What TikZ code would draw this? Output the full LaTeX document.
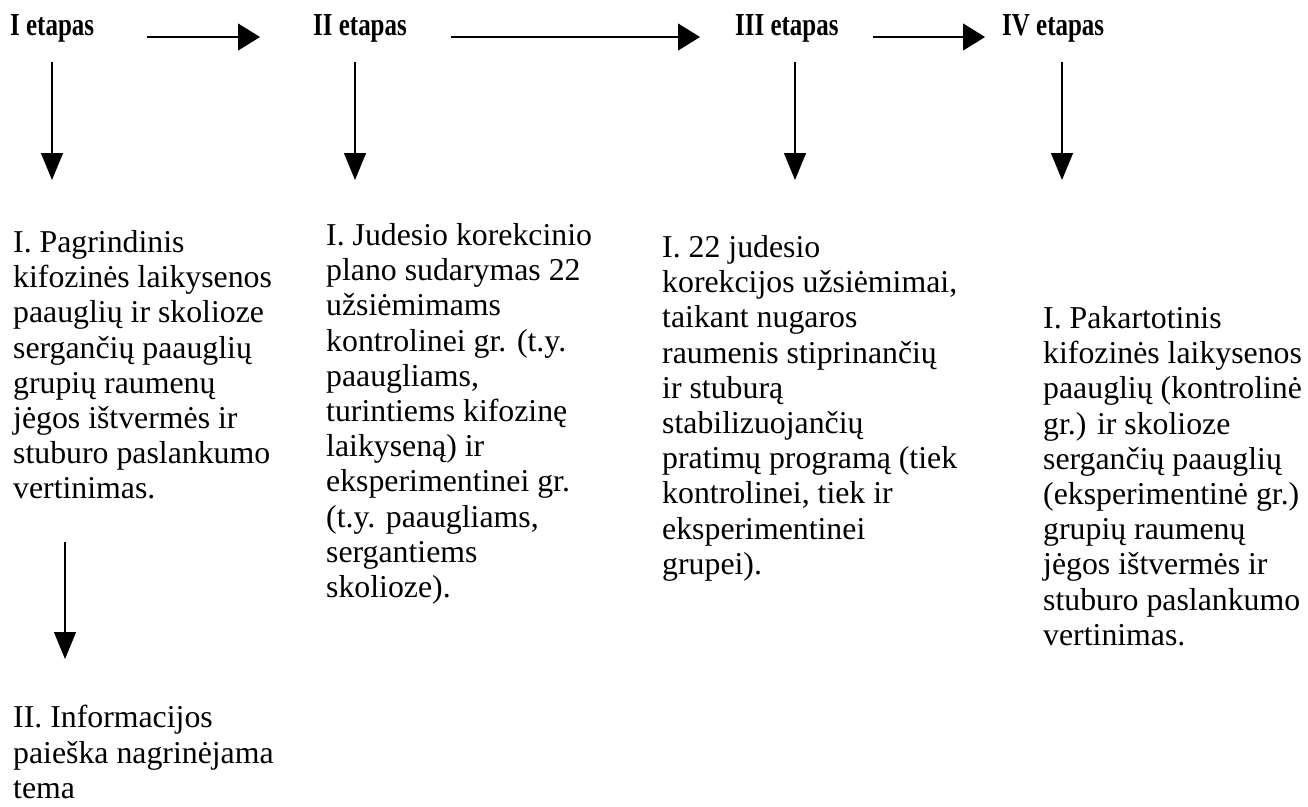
\documentclass[tikz,border=0pt]{standalone}
\usepackage{fontspec}
\setmainfont{Liberation Serif}
\usetikzlibrary{arrows.meta}

\begin{document}
\begin{tikzpicture}[x=1pt,y=-1pt,
	etapas/.style={anchor=base west,inner sep=0pt,font=\fontsize{32}{36}\selectfont\bfseries},
	darbas/.style={anchor=north west,inner sep=0pt,align=left,font=\fontsize{31.8}{35.2}\selectfont},
	harrow/.style={line width=1.2pt,-{Triangle[length=22pt,width=27pt]}},
	varrow/.style={line width=1.2pt,-{Triangle[length=27pt,width=22pt]}}]
		\useasboundingbox (0,0) rectangle (1308,806);
		%stage titles
		\node[etapas] (t1) at (10,35) {\scalebox{0.78}[1]{I etapas}};
		\node[etapas] (t2) at (313,35) {\scalebox{0.78}[1]{II etapas}};
		\node[etapas] (t3) at (735,35) {\scalebox{0.78}[1]{III etapas}};
		\node[etapas] (t4) at (1002,35) {\scalebox{0.78}[1]{IV etapas}};
		\draw[harrow,shorten <=53pt,shorten >=53pt] ([yshift=-2pt]t1.base east) -- ([yshift=-2pt]t2.base west);
		\draw[harrow,shorten <=44pt,shorten >=35pt] ([yshift=-2pt]t2.base east) -- ([yshift=-2pt]t3.base west);
		\draw[harrow,shorten <=34pt,shorten >=17pt] ([yshift=-2pt]t3.base east) -- ([yshift=-2pt]t4.base west);
		
		%stage works
		\node[darbas] (s1) at (13,230.3) {I. Pagrindinis\\kifozinės laikysenos\\paauglių ir skolioze\\sergančių paauglių\\grupių raumenų\\jėgos ištvermės ir\\stuburo paslankumo\\vertinimas.};
		\node[darbas] (s2) at (326,223.3) {I. Judesio korekcinio\\plano sudarymas 22\\užsiėmimams\\kontrolinei gr. (t.y.\\paaugliams,\\turintiems kifozinę\\laikyseną) ir\\eksperimentinei gr.\\(t.y. paaugliams,\\sergantiems\\skolioze).};
		\node[darbas] (s3) at (662,235.3) {I. 22 judesio\\korekcijos užsiėmimai,\\taikant nugaros\\raumenis stiprinančių\\ir stuburą\\stabilizuojančių\\pratimų programą (tiek\\kontrolinei, tiek ir\\eksperimentinei\\grupei).};
		\node[darbas] (s4) at (1043,306.3) {I. Pakartotinis\\kifozinės laikysenos\\paauglių (kontrolinė\\gr.) ir skolioze\\sergančių paauglių\\(eksperimentinė gr.)\\grupių raumenų\\jėgos ištvermės ir\\stuburo paslankumo\\vertinimas.};
		\node[darbas] (i1) at (13,705.3) {II. Informacijos\\paieška nagrinėjama\\tema};
		
		%down arrows
		\coordinate (g1) at (52,180);
		\coordinate (g2) at (355,180);
		\coordinate (g3) at (795,180);
		\coordinate (g4) at (1062,180);
		\coordinate (g5) at (65,659);
		\draw[varrow,shorten <=19.5pt] (t1.south -| g1) -- (g1);
		\draw[varrow,shorten <=19.5pt] (t2.south -| g2) -- (g2);
		\draw[varrow,shorten <=19.5pt] (t3.south -| g3) -- (g3);
		\draw[varrow,shorten <=19.5pt] (t4.south -| g4) -- (g4);
		\draw[varrow,shorten <=42.6pt] (s1.south -| g5) -- (g5);
		
\end{tikzpicture}
\end{document}
